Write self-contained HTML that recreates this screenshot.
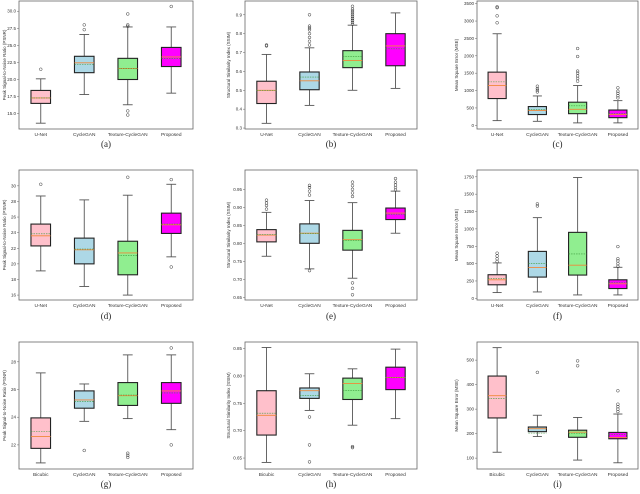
<!DOCTYPE html>
<html><head><meta charset="utf-8"><style>
html,body{margin:0;padding:0;background:#fff;}
svg{display:block;font-family:"Liberation Sans",sans-serif;}
</style></head><body>
<svg id="fig" width="640" height="494" viewBox="0 0 640 494" xmlns="http://www.w3.org/2000/svg"></svg>
<script>
// ---- data: each box = [low whisker, q1, median, mean, q3, high whisker]
const catsA = ["U-Net","CycleGAN","Texture-CycleGAN","Proposed"];
const catsB = ["Bicubic","CycleGAN","Texture-CycleGAN","Proposed"];
const colors = ["#ffc0cb","#add8e6","#90ee90","#ff00ff"];
const yTitles = ["Peak Signal-to-Noise Ratio (PSNR)","Structural Similarity Index (SSIM)","Mean Square Error (MSE)"];
const captions = ["(a)","(b)","(c)","(d)","(e)","(f)","(g)","(h)","(i)"];

const boxesA = [[13.6,16.5,17.3,17.3,18.4,20.1],[17.8,21.0,22.45,22.2,23.4,26.6],[16.3,20.0,21.6,21.6,23.1,27.7],[18.0,21.9,23.3,23.1,24.7,27.7]];
const outA = [[21.5],[27.3,28.0],[29.6,28.0,27.8,15.4,14.8],[30.7]];
const ticksA = [15.0,17.5,20.0,22.5,25.0,27.5,30.0];

const boxesB = [[0.325,0.43,0.50,0.50,0.548,0.69],[0.42,0.503,0.55,0.57,0.597,0.725],[0.50,0.62,0.658,0.68,0.71,0.845],[0.51,0.63,0.735,0.72,0.80,0.91]];
const outB = [[0.74,0.735],[0.74,0.76,0.78,0.8,0.82,0.83,0.84,0.9],[0.85,0.86,0.87,0.88,0.89,0.9,0.91,0.92,0.93,0.945],[]];
const ticksB = [0.3,0.4,0.5,0.6,0.7,0.8,0.9];

const boxesC = [[135,770,1145,1250,1530,2635],[115,310,425,450,540,845],[70,335,460,560,665,1145],[70,220,310,345,440,710]];
const outC = [[2950,3150,3385,3410],[960,1010,1060,1125],[1270,1350,1420,1500,1560,1980,2210],[790,850,920,980,1080]];
const ticksC = [0,500,1000,1500,2000,2500,3000,3500];

const boxesD = [[19.1,22.3,23.6,23.85,25.1,28.7],[17.1,20.0,21.8,21.9,23.3,28.2],[16.0,18.6,21.4,21.1,22.9,28.8],[20.9,23.9,25.0,25.1,26.5,30.2]];
const outD = [[30.2],[],[31.1],[30.8,19.6]];
const ticksD = [16,18,20,22,24,26,28,30];

const boxesE = [[0.764,0.804,0.823,0.824,0.838,0.886],[0.729,0.80,0.828,0.827,0.854,0.919],[0.703,0.781,0.81,0.808,0.836,0.913],[0.828,0.866,0.884,0.881,0.898,0.945]];
const outE = [[0.895,0.905,0.912,0.92],[0.724,0.934,0.945,0.955,0.961],[0.93,0.94,0.95,0.96,0.97,0.69,0.675,0.657],[0.948,0.955,0.962,0.97,0.98]];
const ticksE = [0.65,0.70,0.75,0.80,0.85,0.90,0.95];

const boxesF = [[83,195,267,285,340,510],[92,306,443,500,676,1162],[49,335,477,640,950,1740],[49,141,209,228,267,447]];
const outF = [[530,570,610,650],[1360,1330],[],[460,500,540,570,745]];
const ticksF = [0,250,500,750,1000,1250,1500,1750];

const boxesG = [[20.7,21.75,22.6,22.95,23.95,27.2],[23.7,24.65,25.25,25.15,25.9,26.4],[23.9,24.85,25.55,25.6,26.5,28.5],[23.1,25.0,25.9,25.75,26.5,28.5]];
const outG = [[],[21.6],[21.4,21.25,21.1],[29.0,22.0]];
const ticksG = [22,24,26,28];

const boxesH = [[0.642,0.692,0.728,0.732,0.773,0.852],[0.737,0.759,0.773,0.764,0.778,0.804],[0.71,0.757,0.786,0.773,0.796,0.813],[0.722,0.775,0.797,0.797,0.816,0.849]];
const outH = [[],[0.725,0.674,0.643],[0.671,0.669],[]];
const ticksH = [0.65,0.70,0.75,0.80,0.85];

const boxesI = [[124,264,355,344,435,551],[188,208,220,202,227,275],[92,185,206,201,214,266],[81,179,184,197,205,280]];
const outI = [[],[450],[497,477],[290,300,310,320,375]];
const ticksI = [100,200,300,400,500];

const NS="http://www.w3.org/2000/svg";
const svg=document.getElementById('fig');
function mk(tag,attrs,parent){const e=document.createElementNS(NS,tag);for(const k in attrs)e.setAttribute(k,attrs[k]);(parent||svg).appendChild(e);return e;}

const colX=[[19,193],[245,417],[477,638]];
const rowY=[[1,129],[170,300],[342,469]];
const capOff=[18,19,18];
const ylims=[[12.75,31.5],[0.295,0.973],[-106,3577],[15.37,32.03],[0.6425,1.0037],[-24,1848],[20.26,29.43],[0.63,0.862],[55.6,574]];
const panels=[[boxesA,outA,ticksA],[boxesB,outB,ticksB],[boxesC,outC,ticksC],[boxesD,outD,ticksD],[boxesE,outE,ticksE],[boxesF,outF,ticksF],[boxesG,outG,ticksG],[boxesH,outH,ticksH],[boxesI,outI,ticksI]];

panels.forEach((p,i)=>{
  const r=Math.floor(i/3), c=i%3;
  const [x0,x1]=colX[c], [y0,y1]=rowY[r], [lo,hi]=ylims[i];
  const g=mk('g',{});
  
  
  const ys=v=>y1-(v-lo)/(hi-lo)*(y1-y0);
  const xs=k=>x0+(k+0.5)/4*(x1-x0);
  const bw=(x1-x0)/4*0.45;
  const cats=r===2?catsB:catsA;
  const fr=mk('rect',{x:x0,y:y0,width:x1-x0,height:y1-y0,fill:'none',stroke:'#666','stroke-width':0.8},g);
  
  p[2].forEach(t=>{
    const y=ys(t);
    mk('line',{x1:x0-2,x2:x0,y1:y,y2:y,stroke:'#666','stroke-width':0.5},g);
    const tx=mk('text',{x:x0-3,y:y+1.5,'font-size':4.5,'text-anchor':'end',fill:'#333'},g);
    tx.textContent=(i===0)?t.toFixed(1):(c===1?(r===0?t.toFixed(1):t.toFixed(2)):String(t));
    
  });
  const yt=mk('text',{x:0,y:0,'font-size':4.5,'text-anchor':'middle',fill:'#333',transform:`translate(${x0-(c===0?13:(c===1?15:19))},${(y0+y1)/2}) rotate(-90)`},g);
  yt.textContent=yTitles[c];
  
  p[0].forEach((b,k)=>{
    const cx=xs(k);
    const bg=mk('g',{},g);
    
    
    mk('line',{x1:cx,x2:cx,y1:ys(b[0]),y2:ys(b[1]),stroke:'#555','stroke-width':0.9},bg);
    mk('line',{x1:cx,x2:cx,y1:ys(b[4]),y2:ys(b[5]),stroke:'#555','stroke-width':0.9},bg);
    mk('line',{x1:cx-bw/4,x2:cx+bw/4,y1:ys(b[0]),y2:ys(b[0]),stroke:'#555','stroke-width':0.9},bg);
    mk('line',{x1:cx-bw/4,x2:cx+bw/4,y1:ys(b[5]),y2:ys(b[5]),stroke:'#555','stroke-width':0.9},bg);
    mk('rect',{x:cx-bw/2,y:ys(b[4]),width:bw,height:ys(b[1])-ys(b[4]),fill:colors[k],stroke:'#222','stroke-width':1.1},bg);
    mk('line',{x1:cx-bw/2,x2:cx+bw/2,y1:ys(b[2]),y2:ys(b[2]),stroke:'#f0883a','stroke-width':0.9},bg);
    mk('line',{x1:cx-bw/2,x2:cx+bw/2,y1:ys(b[3]),y2:ys(b[3]),stroke:'#3a9a3a','stroke-width':0.6,'stroke-dasharray':'1.5,1'},bg);
    p[1][k].forEach(o=>{
      const ci=mk('circle',{cx:cx,cy:ys(o),r:1.4,fill:'none',stroke:'#333','stroke-width':0.5},bg);
      
    });
    const lb=mk('text',{x:cx,y:y1+7,'font-size':4.8,'text-anchor':'middle',fill:'#333'},g);
    lb.textContent=cats[k];
    
  });
  const cap=mk('text',{x:(x0+x1)/2,y:y1+capOff[r],'font-size':9,'text-anchor':'middle',fill:'#222','font-family':'Liberation Serif, serif'},g);
  cap.textContent=captions[i];
  
});
</script>
</body></html>
